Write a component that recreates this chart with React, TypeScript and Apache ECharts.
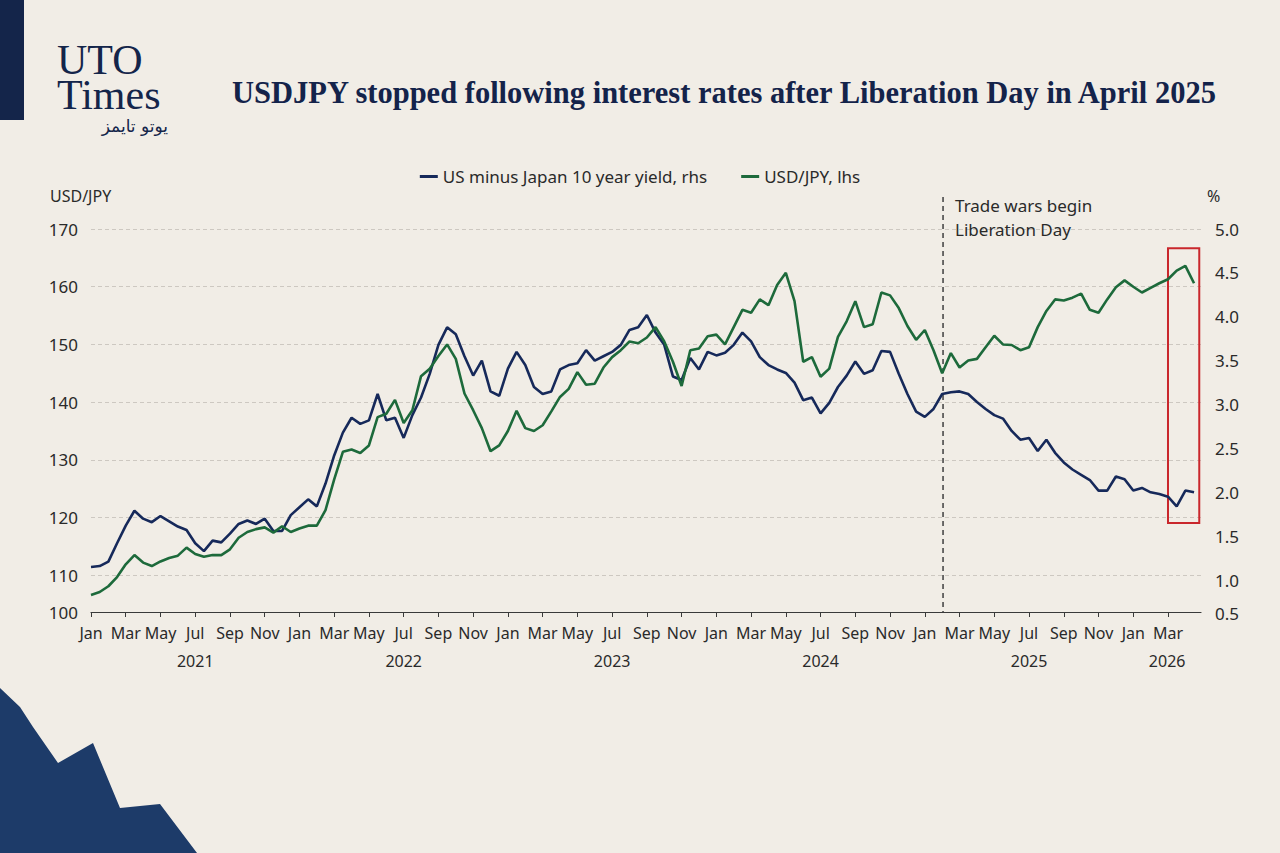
import React, { useEffect, useRef } from "react";
import * as echarts from "echarts";

// x positions are months since Jan 2021, sampled every half month
const firstYear = 2021;
const stepMonths = 0.5;
const axisEndMonth = 63.9;
const monthNames = ["Jan", "Feb", "Mar", "Apr", "May", "Jun", "Jul", "Aug", "Sep", "Oct", "Nov", "Dec"];

// USD/JPY, left axis
const usdJpy = [
  106.6, 107.1, 108.1, 109.7, 111.9, 113.5, 112.2, 111.6, 112.4, 113.0, 113.4, 114.8,
  113.7, 113.2, 113.5, 113.5, 114.5, 116.5, 117.5, 118.0, 118.3, 117.4, 118.5, 117.5,
  118.1, 118.6, 118.6, 121.3, 126.6, 131.4, 131.8, 131.2, 132.5, 137.4, 138.0, 140.4,
  136.4, 138.6, 144.5, 145.8, 148.0, 150.0, 147.5, 141.5, 138.6, 135.5, 131.5, 132.5,
  135.0, 138.5, 135.5, 135.0, 136.0, 138.4, 140.9, 142.3, 145.2, 143.0, 143.2, 146.0,
  147.8, 149.0, 150.5, 150.2, 151.2, 153.0, 150.5, 147.0, 142.8, 149.0, 149.3, 151.4,
  151.7, 150.0, 153.0, 156.0, 155.5, 157.8, 156.8, 160.3, 162.4, 157.5, 147.0, 147.8,
  144.4, 145.8, 151.3, 154.0, 157.5, 153.0, 153.5, 159.0, 158.5, 156.3, 153.2, 150.8,
  152.5, 149.0, 145.0, 148.5, 146.0, 147.2, 147.5, 149.5, 151.5, 150.0, 149.9, 149.0,
  149.5, 153.0, 155.8, 157.8, 157.6, 158.1, 158.8, 156.0, 155.5, 157.8, 159.9, 161.1,
  160.0, 159.0, 159.8, 160.6, 161.3, 162.8, 163.6, 160.6,
];

// US minus Japan 10 year yield (%), right axis
const yieldSpread = [
  1.15, 1.16, 1.21, 1.42, 1.62, 1.79, 1.70, 1.66, 1.73, 1.67, 1.61, 1.57,
  1.42, 1.33, 1.45, 1.43, 1.53, 1.64, 1.68, 1.64, 1.70, 1.56, 1.56, 1.74,
  1.83, 1.92, 1.84, 2.10, 2.42, 2.68, 2.85, 2.78, 2.82, 3.12, 2.82, 2.85,
  2.62, 2.88, 3.08, 3.35, 3.68, 3.88, 3.80, 3.55, 3.33, 3.50, 3.15, 3.10,
  3.41, 3.60, 3.45, 3.20, 3.12, 3.15, 3.40, 3.45, 3.47, 3.62, 3.50, 3.55,
  3.60, 3.68, 3.85, 3.88, 4.02, 3.82, 3.68, 3.32, 3.28, 3.53, 3.40, 3.60,
  3.56, 3.59, 3.68, 3.82, 3.72, 3.54, 3.45, 3.40, 3.36, 3.25, 3.05, 3.08,
  2.90, 3.02, 3.20, 3.33, 3.49, 3.35, 3.39, 3.61, 3.60, 3.35, 3.12, 2.92,
  2.86, 2.95, 3.12, 3.14, 3.15, 3.12, 3.03, 2.95, 2.88, 2.84, 2.70, 2.60,
  2.62, 2.47, 2.60, 2.45, 2.34, 2.26, 2.20, 2.14, 2.02, 2.02, 2.18, 2.15,
  2.02, 2.05, 2.00, 1.98, 1.95, 1.84, 2.02, 2.00,
];

const years = [2021, 2022, 2023, 2024, 2025, 2026];

// event marker and highlighted window (months since Jan 2021 / % axis)
const eventMonth = 49.05;
const eventLabel = ["Trade wars begin", "Liberation Day"];
const highlightMonths = [62, 63.8];
const highlightRange = [1.65, 4.78];

const NAVY = "#16295a";
const GREEN = "#1d6a3b";
const INK = "#2a2a2a";
const FONT = "'Noto Sans', sans-serif";

const App = () => {
  const chartRef = useRef<HTMLDivElement>(null);

  useEffect(() => {
    if (!chartRef.current) return;
    const chart = echarts.init(chartRef.current, undefined, { renderer: "svg" });

    const monthTicks: number[] = [];
    for (let m = 0; m <= axisEndMonth; m += 2) monthTicks.push(m);
    const yearMids = years.map((y) => {
      const start = (y - firstYear) * 12;
      return (start + Math.min(start + 12, axisEndMonth)) / 2;
    });

    const options: any = {
      animation: false,
      backgroundColor: "#f1ede6",
      textStyle: { fontFamily: FONT },
      legend: {
        top: 163,
        left: "center",
        icon: "rect",
        itemWidth: 18,
        itemHeight: 3,
        itemGap: 34,
        textStyle: { fontSize: 17, color: INK, fontFamily: FONT },
        data: ["US minus Japan 10 year yield, rhs", "USD/JPY, lhs"],
      },
      grid: [
        { left: 91, right: 79, top: 229, bottom: 220 },
        { left: 91, right: 79, top: 229, bottom: 229 },
      ],
      xAxis: [
        {
          gridIndex: 0,
          type: "value",
          min: 0,
          max: axisEndMonth,
          offset: -21,
          axisLine: { onZero: false, lineStyle: { color: "#3a3a3a", width: 1.2 } },
          axisTick: { customValues: monthTicks, length: 5, lineStyle: { color: "#3a3a3a" } },
          axisLabel: {
            customValues: monthTicks,
            formatter: (v: number) => monthNames[Math.round(v) % 12],
            fontSize: 16,
            color: INK,
            margin: 13,
            fontFamily: FONT,
          },
          splitLine: { show: false },
        },
        {
          gridIndex: 1,
          type: "value",
          min: 0,
          max: axisEndMonth,
          axisLine: { show: false, onZero: false },
          axisTick: { show: false },
          axisLabel: {
            customValues: yearMids,
            formatter: (v: number) => String(firstYear + Math.floor(v / 12)),
            fontSize: 16,
            color: INK,
            margin: 29,
            fontFamily: FONT,
          },
          splitLine: { show: false },
        },
      ],
      yAxis: [
        {
          gridIndex: 0,
          type: "value",
          position: "left",
          min: 100,
          max: 170,
          interval: 10,
          axisLine: { show: false },
          axisTick: { show: false },
          axisLabel: {
            fontSize: 17,
            color: INK,
            margin: 13,
            fontFamily: FONT,
            formatter: (v: number) => (v === 100 ? "{lo|100}" : String(v)),
            rich: { lo: { fontSize: 17, color: INK, fontFamily: FONT, padding: [0, 0, 42, 0] } },
          },
          splitLine: {
            show: true,
            showMinLine: false,
            lineStyle: { color: "#cdc8c1", type: [4, 3], width: 1 },
          },
        },
        {
          gridIndex: 1,
          type: "value",
          position: "right",
          min: 0.5,
          max: 5,
          interval: 0.5,
          axisLine: { show: false },
          axisTick: { show: false },
          axisLabel: {
            fontSize: 17,
            color: INK,
            margin: 14,
            fontFamily: FONT,
            formatter: (v: number) => (v === 0.5 ? "{lo|0.5}" : v.toFixed(1)),
            rich: { lo: { fontSize: 17, color: INK, fontFamily: FONT, padding: [0, 0, 22, 0] } },
          },
          splitLine: { show: false },
        },
      ],
      series: [
        {
          name: "US minus Japan 10 year yield, rhs",
          type: "line",
          xAxisIndex: 1,
          yAxisIndex: 1,
          showSymbol: false,
          color: NAVY,
          lineStyle: { color: NAVY, width: 2.6 },
          data: yieldSpread.map((v, i) => [i * stepMonths, v]),
          markArea: {
            silent: true,
            label: { show: false },
            itemStyle: { color: "rgba(0,0,0,0)", borderColor: "#c9272c", borderWidth: 2 },
            data: [
              [
                { xAxis: highlightMonths[0], yAxis: highlightRange[1] },
                { xAxis: highlightMonths[1], yAxis: highlightRange[0] },
              ],
            ],
          },
        },
        {
          name: "USD/JPY, lhs",
          type: "line",
          xAxisIndex: 0,
          yAxisIndex: 0,
          showSymbol: false,
          color: GREEN,
          lineStyle: { color: GREEN, width: 2.6 },
          data: usdJpy.map((v, i) => [i * stepMonths, v]),
        },
      ],
    };

    chart.setOption(options);

    const eventX = chart.convertToPixel({ xAxisIndex: 0 }, eventMonth) as number;
    const axisY = (chart.convertToPixel({ yAxisIndex: 0 }, 100) as number) - 21;

    chart.setOption({
      graphic: [
        { type: "rect", left: 0, top: 0, shape: { width: 24, height: 120 }, style: { fill: "#14254a" } },
        {
          type: "text",
          x: 57,
          y: 42,
          style: {
            text: "UTO\nTimes",
            font: "42px 'Liberation Serif', serif",
            fill: "#14254a",
            lineHeight: 35,
            verticalAlign: "top",
          },
        },
        {
          type: "text",
          x: 168,
          y: 126,
          style: {
            text: "يوتو تايمز",
            font: "17px 'DejaVu Sans', sans-serif",
            fill: "#14254a",
            align: "right",
            verticalAlign: "middle",
          },
        },
        {
          type: "text",
          x: 232,
          y: 93,
          style: {
            text: "USDJPY stopped following interest rates after Liberation Day in April 2025",
            font: "bold 30.5px 'Liberation Serif', serif",
            fill: "#14234a",
            verticalAlign: "middle",
          },
        },
        {
          type: "text",
          x: 50,
          y: 196,
          style: { text: "USD/JPY", font: `16px ${FONT}`, fill: INK, verticalAlign: "middle" },
        },
        {
          type: "text",
          x: 1207,
          y: 196,
          style: { text: "%", font: `16px ${FONT}`, fill: INK, verticalAlign: "middle" },
        },
        {
          type: "line",
          shape: { x1: eventX, y1: 197, x2: eventX, y2: axisY },
          style: { stroke: "#4a4a4a", lineWidth: 1.6, lineDash: [5, 4] },
        },
        {
          type: "text",
          x: eventX + 12,
          y: 193,
          style: {
            text: eventLabel.join("\n"),
            font: `17px ${FONT}`,
            fill: INK,
            lineHeight: 24,
            verticalAlign: "top",
          },
        },
        {
          type: "polygon",
          shape: {
            points: [
              [0, 688], [20, 707], [33, 727], [58, 763], [93, 743], [120, 808],
              [160, 804], [197, 853], [0, 853],
            ],
          },
          style: { fill: "#1d3b69" },
        },
      ],
    });

    return () => {
      chart.dispose();
    };
  }, []);

  return (
    <div
      ref={chartRef}
      style={{ position: "fixed", left: 0, top: 0, width: "1280px", height: "853px" }}
    />
  );
};

export default App;
